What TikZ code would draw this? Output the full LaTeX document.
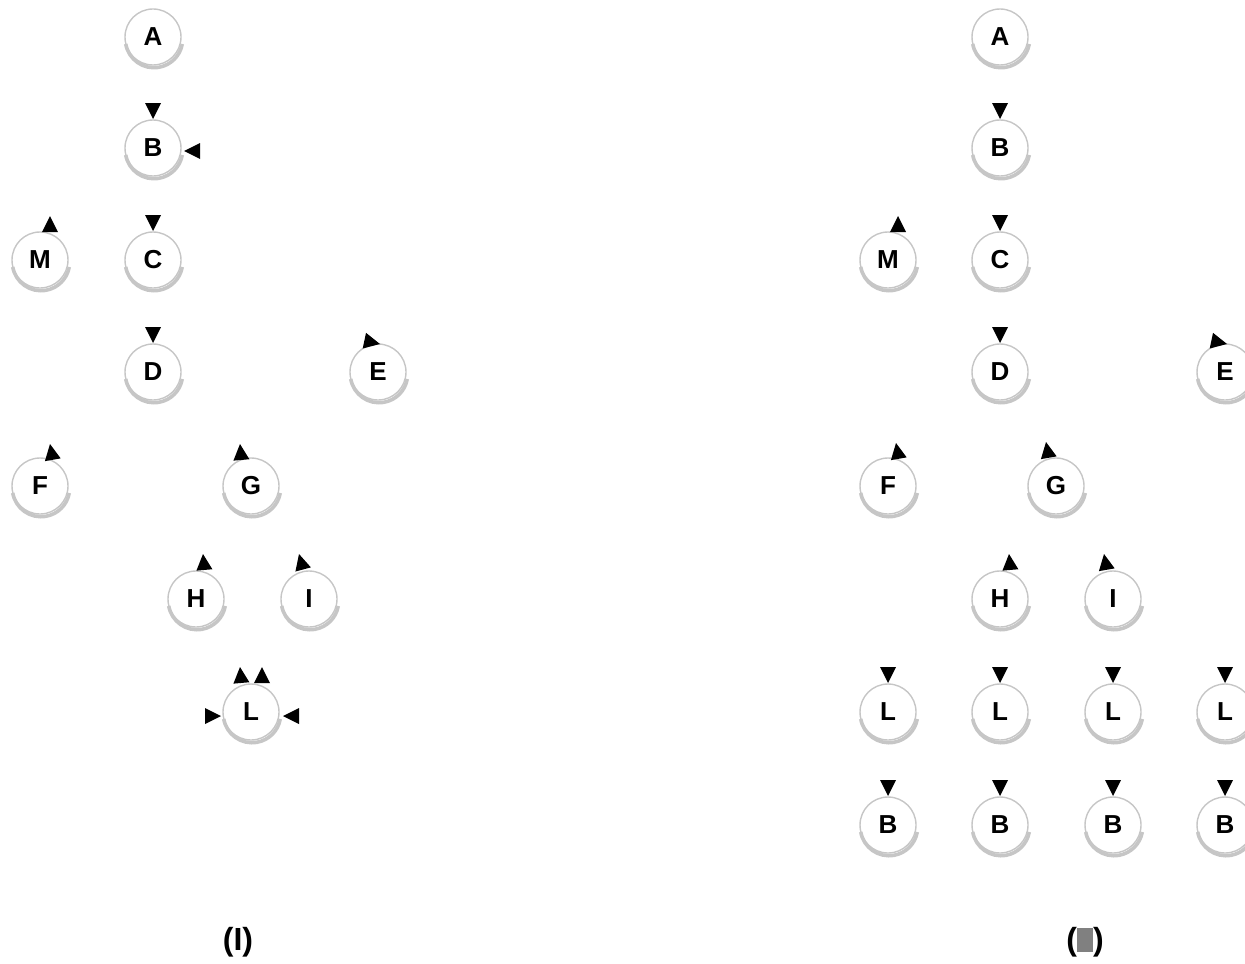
\documentclass[tikz,border=0pt]{standalone}
\usepackage{fontspec}
\setmainfont{Liberation Sans}
\tikzset{
  x=0.5pt, y=0.5pt,
  gn/.style={circle, draw=gray!45, line width=0.7pt, minimum size=28pt, inner sep=0pt,
    fill=white, font=\fontsize{13pt}{13pt}\selectfont\bfseries},
  gshadow/.style={draw=gray!45, line width=1.8pt},
  tipfill/.style={fill=black},
  lbl/.style={font=\fontsize{16pt}{16pt}\selectfont\bfseries},
}
\newcommand\gnd[4]{\node[gn] (#1) at (#2,#3) {#4};
  \draw[gshadow] ([shift={(0.5pt,-1pt)}]#1.190) arc[start angle=190, end angle=350, radius=14.35pt];}
\newcommand\tipat[4]{\fill[tipfill, shift={(#1.center)}, shift={(#2,#3)}, rotate=#4]
  (0,0) -- (-8pt,4pt) -- (-8pt,-4pt) -- cycle;}
\begin{document}
\begin{tikzpicture}
\useasboundingbox (0,0) rectangle (1245,-963);
% left tree
\gnd{a1}{153}{-37}{A}
\gnd{b1}{153}{-148}{B}
\gnd{m1}{40}{-260}{M}
\gnd{c1}{153}{-260}{C}
\gnd{d1}{153}{-372}{D}
\gnd{e1}{378}{-372}{E}
\gnd{f1}{40}{-486}{F}
\gnd{g1}{251}{-486}{G}
\gnd{h1}{196}{-599}{H}
\gnd{i1}{309}{-599}{I}
\gnd{l1}{251}{-712}{L}
\tipat{b1}{0}{29}{-90}
\tipat{b1}{31}{-3}{180}
\tipat{c1}{0}{29}{-90}
\tipat{d1}{0}{29}{-90}
\tipat{m1}{10}{44}{90}
\tipat{e1}{2}{28}{-12}
\tipat{f1}{10}{42}{100}
\tipat{g1}{-11}{42}{95}
\tipat{h1}{7}{45}{95}
\tipat{i1}{-10}{45}{105}
\tipat{l1}{-11}{45}{95}
\tipat{l1}{11}{45}{90}
\tipat{l1}{-30}{-4}{0}
\tipat{l1}{32}{-4}{180}
% right tree
\gnd{a2}{1000}{-37}{A}
\gnd{b2}{1000}{-148}{B}
\gnd{m2}{888}{-260}{M}
\gnd{c2}{1000}{-260}{C}
\gnd{d2}{1000}{-372}{D}
\gnd{e2}{1225}{-372}{E}
\gnd{f2}{888}{-486}{F}
\gnd{g2}{1056}{-486}{G}
\gnd{h2}{1000}{-599}{H}
\gnd{i2}{1113}{-599}{I}
\gnd{la}{888}{-712}{L}
\gnd{lb}{1000}{-712}{L}
\gnd{lc}{1113}{-712}{L}
\gnd{ld}{1225}{-712}{L}
\gnd{ba}{888}{-825}{B}
\gnd{bb}{1000}{-825}{B}
\gnd{bc}{1113}{-825}{B}
\gnd{bd}{1225}{-825}{B}
\tipat{b2}{0}{29}{-90}
\tipat{c2}{0}{29}{-90}
\tipat{d2}{0}{29}{-90}
\tipat{m2}{10}{44}{90}
\tipat{e2}{2}{28}{-12}
\tipat{f2}{8}{43}{100}
\tipat{g2}{-10}{44}{100}
\tipat{h2}{9}{45}{95}
\tipat{i2}{-9}{45}{100}
\foreach \n in {la,lb,lc,ld,ba,bb,bc,bd}{\tipat{\n}{0}{29}{-90}}
% captions
\node[lbl] (t1) at (238,-942) {(I)};
\node[lbl] (t2) at (1085,-942) {(\textcolor{gray}{\rule[-1pt]{8pt}{12pt}})};
\end{tikzpicture}
\end{document}
